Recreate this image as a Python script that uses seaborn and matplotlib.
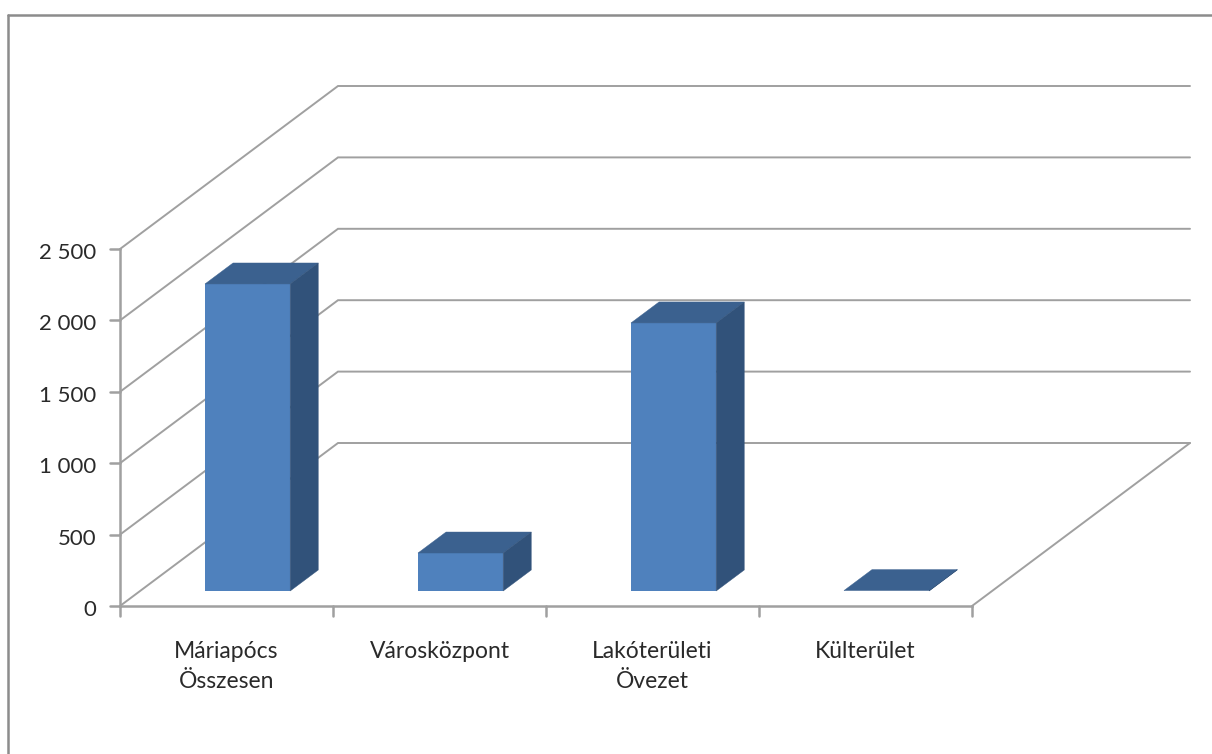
import matplotlib
matplotlib.use("Agg")
import matplotlib.pyplot as plt
from matplotlib.lines import Line2D
from matplotlib.patches import Polygon
from matplotlib.transforms import ScaledTranslation
import pandas as pd
import seaborn as sns

categories = ["Máriapócs\nÖsszesen", "Városközpont", "Lakóterületi\nÖvezet", "Külterület"]
values = [2150, 266, 1877, 3]
y_ticks = [0, 500, 1000, 1500, 2000, 2500]
y_labels = ["0", "500", "1 000", "1 500", "2 000", "2 500"]

W, H = 1212, 754
GRID = "#A0A0A0"
FRONT, TOP, SIDE = "#4F81BD", "#3B618F", "#31527A"

sns.set_theme(style="white")
plt.rcParams["font.family"] = ["Lato", "DejaVu Sans"]

fig = plt.figure(figsize=(W / 100, H / 100), dpi=100, facecolor="white")
ax = fig.add_axes([120 / W, 1 - 606 / H, 852 / W, 357 / H])
ax.patch.set_alpha(0)

df = pd.DataFrame({"cat": categories, "val": values})
ax.set_xlim(-0.5, 3.5)
ax.set_ylim(0, 2500)

# projection of depth (0 = front, 1 = back) onto data units
X_PER_D = 218 / 213
Y_PER_D = 163 / (357 / 2500)


def proj(x, v, d):
    return (x + d * X_PER_D, v + d * Y_PER_D)


# walls
for t in y_ticks:
    ax.add_line(Line2D(*zip(proj(-0.5, t, 0), proj(-0.5, t, 1), proj(3.5, t, 1)),
                       color=GRID, lw=1.4, clip_on=False, solid_joinstyle="miter", zorder=1))
ax.add_line(Line2D(*zip(proj(3.5, 0, 0), proj(3.5, 0, 1)), color=GRID, lw=1.4, clip_on=False, zorder=1))

# bars: seaborn draws the fronts, then they are moved onto the depth plane
sns.barplot(data=df, x="cat", y="val", ax=ax, color=FRONT, saturation=1, width=0.4,
            order=categories, zorder=3)
D0, DW = 15 / 163, 21 / 163
NUDGE = 1 / 213
for patch in list(ax.patches):
    x0, w, v = patch.get_x() + NUDGE, patch.get_width(), patch.get_height()
    patch.set_xy(proj(x0, 0, D0))
    patch.set_clip_on(False)
    patch.set_linewidth(0)
    x1 = x0 + w
    ax.add_patch(Polygon([proj(x0, v, D0), proj(x1, v, D0), proj(x1, v, D0 + DW), proj(x0, v, D0 + DW)],
                         closed=True, fc=TOP, ec=TOP, lw=0.3, clip_on=False, zorder=3))
    ax.add_patch(Polygon([proj(x1, 0, D0), proj(x1, v, D0), proj(x1, v, D0 + DW), proj(x1, 0, D0 + DW)],
                         closed=True, fc=SIDE, ec=SIDE, lw=0.3, clip_on=False, zorder=3))

ax.set_xlabel("")
ax.set_ylabel("")
ax.set_yticks(y_ticks, y_labels)
ax.set_xticks(range(4), categories)
ax.tick_params(axis="x", length=0, pad=25, labelsize=16.5, labelcolor="#2A2A2A")
ax.tick_params(axis="y", length=0, pad=17, labelsize=16, labelcolor="#2A2A2A")
for lab in ax.get_xticklabels():
    lab.set_linespacing(1.55)
    lab.set_va("top")
shift = ScaledTranslation(0, -2 / 100, fig.dpi_scale_trans)
for lab in ax.get_yticklabels():
    lab.set_transform(lab.get_transform() + shift)

for s in ["top", "right"]:
    ax.spines[s].set_visible(False)
for s in ["left", "bottom"]:
    ax.spines[s].set_color(GRID)
    ax.spines[s].set_linewidth(1.8)

# tick marks at category boundaries and value gridlines
tx = ax.get_xaxis_transform()
ty = ax.get_yaxis_transform()
for i in range(5):
    ax.add_line(Line2D([i - 0.5, i - 0.5], [0, -10 / 357], transform=tx, color=GRID, lw=1.8, clip_on=False))
for t in y_ticks:
    ax.add_line(Line2D([-10 / 852, 0], [t, t], transform=ty, color=GRID, lw=1.8, clip_on=False))

# chart frame
for xs, ys in [([8, 8], [15, H]), ([8, W], [15, 15])]:
    fig.add_artist(Line2D([x / W for x in xs], [1 - y / H for y in ys], color="#8C8C8C", lw=1.8))

fig.savefig("out.png", dpi=100)
